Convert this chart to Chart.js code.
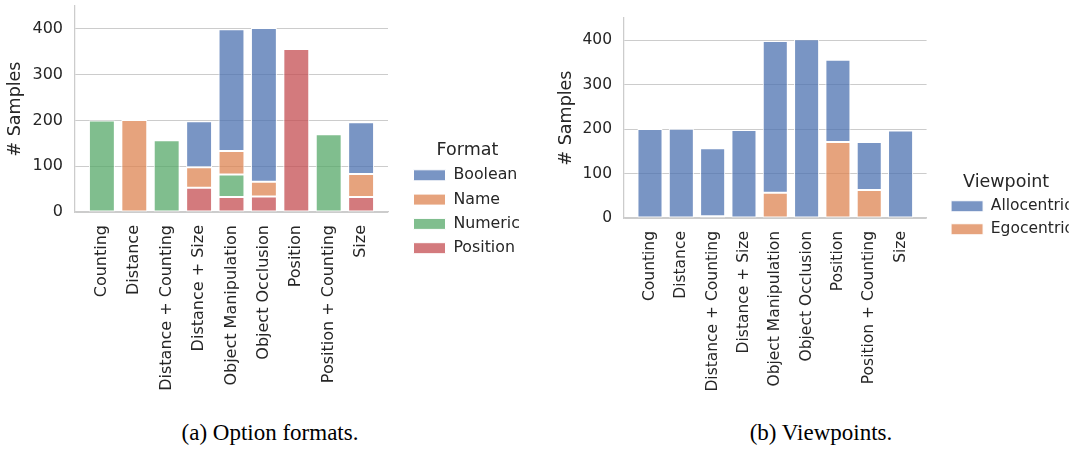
<!DOCTYPE html>
<html>
<head>
<meta charset="utf-8">
<script src="https://cdn.jsdelivr.net/npm/chart.js@4.4.1/dist/chart.umd.min.js"></script>
<style>
  html, body { margin: 0; padding: 0; background: #fff; }
  #page { position: relative; width: 1086px; height: 449px; overflow: hidden; }
  .panel { position: absolute; top: 0; }
  .caption {
    position: absolute; transform: translateX(-50%); white-space: nowrap;
    font-family: "Liberation Serif", "Times New Roman", serif; font-size: 23px; line-height: 1; color: #000;
  }
</style>
</head>
<body>
<div id="page">
  <canvas class="panel" id="chart-format" width="545" height="400" style="left:0px"></canvas>
  <canvas class="panel" id="chart-view" width="535" height="400" style="left:551px"></canvas>
  <div class="caption" style="left:270px; top:421px">(a) Option formats.</div>
  <div class="caption" style="left:821px; top:421px">(b) Viewpoints.</div>
</div>
<script>
/* task categories on the x axis (same for both panels) */
const CATEGORIES = ['Counting', 'Distance', 'Distance + Counting', 'Distance + Size',
  'Object Manipulation', 'Object Occlusion', 'Position', 'Position + Counting', 'Size'];
const Y_TICKS = [0, 100, 200, 300, 400];

/* (a) option formats — counts per category */
const BOOLEAN  = [null, null, null, 100, 266, 336, null, null, 113];
const NAME     = [null, 201, null, 45, 51, 32, null, null, 50];
const NUMERIC  = [200, null, 157, null, 49, null, null, 170, null];
const POSITION = [null, null, null, 53, 33, 34, 356, null, 33];

/* (b) viewpoints — counts per category */
const ALLOCENTRIC = [200, 201, 153, 198, 341, 402, 185, 108, 197];
const EGOCENTRIC  = [null, null, 4, null, 57, null, 171, 63, null];

const BLUE   = 'rgba(76, 114, 176, 0.75)';
const ORANGE = 'rgba(221, 132, 82, 0.75)';
const GREEN  = 'rgba(85, 168, 104, 0.75)';
const RED    = 'rgba(196, 78, 82, 0.75)';
const INK = '#262626';
const RULE = '#cccccc';

Chart.defaults.font.family = "'DejaVu Sans', sans-serif";
Chart.defaults.color = INK;

function series(label, values, color) {
  return {
    label,
    data: values.map((v, i) => ({x: i, y: v})),
    backgroundColor: color,
    borderColor: '#ffffff',
    borderWidth: 1,
    borderSkipped: false,
    barPercentage: 0.8,
    categoryPercentage: 1.0,
  };
}

/* push the legend a bit away from the plot, like the matplotlib figure legend */
const legendShift = {
  id: 'legendShift',
  afterLayout(chart, args, opts) {
    const l = chart.legend;
    if (l) { l.left += opts.dx; l.right += opts.dx; }
  },
};

function makePanel(id, datasets, legendTitle, g) {
  const chart = new Chart(document.getElementById(id), {
    type: 'bar',
    data: {datasets},
    plugins: [legendShift],
    options: {
      responsive: false,
      animation: false,
      layout: {padding: {top: g.top, right: 40, bottom: 0, left: 0}},
      plugins: {
        tooltip: {enabled: false},
        legendShift: {dx: 17},
        legend: {
          position: 'right',
          reverse: true,
          title: {display: true, text: legendTitle, color: INK,
                  font: {size: g.title, lineHeight: 1}, padding: {top: 0, bottom: 0}},
          labels: {boxWidth: 32, boxHeight: 11, padding: g.legendGap, color: INK, font: {size: g.legend}},
        },
      },
      scales: {
        x: {
          type: 'linear',
          offset: false,
          stacked: true,
          min: -0.83,
          max: 8.83,
          afterBuildTicks: (axis) => { axis.ticks = CATEGORIES.map((c, i) => ({value: i})); },
          afterFit: (axis) => { axis.height = 400 - g.bottom; axis.paddingLeft = 0; axis.paddingRight = 0; },
          ticks: {
            autoSkip: false, minRotation: 90, maxRotation: 90, padding: 13,
            font: {size: g.tick}, color: INK,
            callback: (v) => CATEGORIES[v],
          },
          grid: {display: false, drawTicks: false},
          border: {display: true, color: RULE, width: 1.25},
        },
        y: {
          stacked: true,
          min: 0,
          max: 450,
          afterBuildTicks: (axis) => { axis.ticks = Y_TICKS.map((v) => ({value: v})); },
          afterFit: (axis) => { axis.width = g.yWidth; axis.paddingTop = 0; axis.paddingBottom = 0; },
          ticks: {padding: 12, font: {size: g.tick}, color: INK},
          grid: {color: RULE, lineWidth: 1, drawTicks: false},
          border: {display: true, color: RULE, width: 1.25},
          title: {display: true, text: '# Samples', color: INK, font: {size: g.title}, padding: {top: 5, bottom: 4}},
        },
      },
    },
  });
  // pin the right edge of the plot area
  const dx = chart.chartArea.right - g.right;
  if (Math.abs(dx) > 0.5) {
    chart.options.layout.padding.right += dx;
    chart.update();
  }
  return chart;
}

makePanel('chart-format', [
  series('Position', POSITION, RED),
  series('Numeric', NUMERIC, GREEN),
  series('Name', NAME, ORANGE),
  series('Boolean', BOOLEAN, BLUE),
], 'Format', {top: 6, bottom: 212, right: 388, yWidth: 75, tick: 16, legend: 15.8, legendGap: 8.5, title: 17.5});

makePanel('chart-view', [
  series('Egocentric', EGOCENTRIC, ORANGE),
  series('Allocentric', ALLOCENTRIC, BLUE),
], 'Viewpoint', {top: 18, bottom: 218, right: 377, yWidth: 73, tick: 15.5, legend: 15.5, legendGap: 7.5, title: 17.5});
</script>
</body>
</html>
